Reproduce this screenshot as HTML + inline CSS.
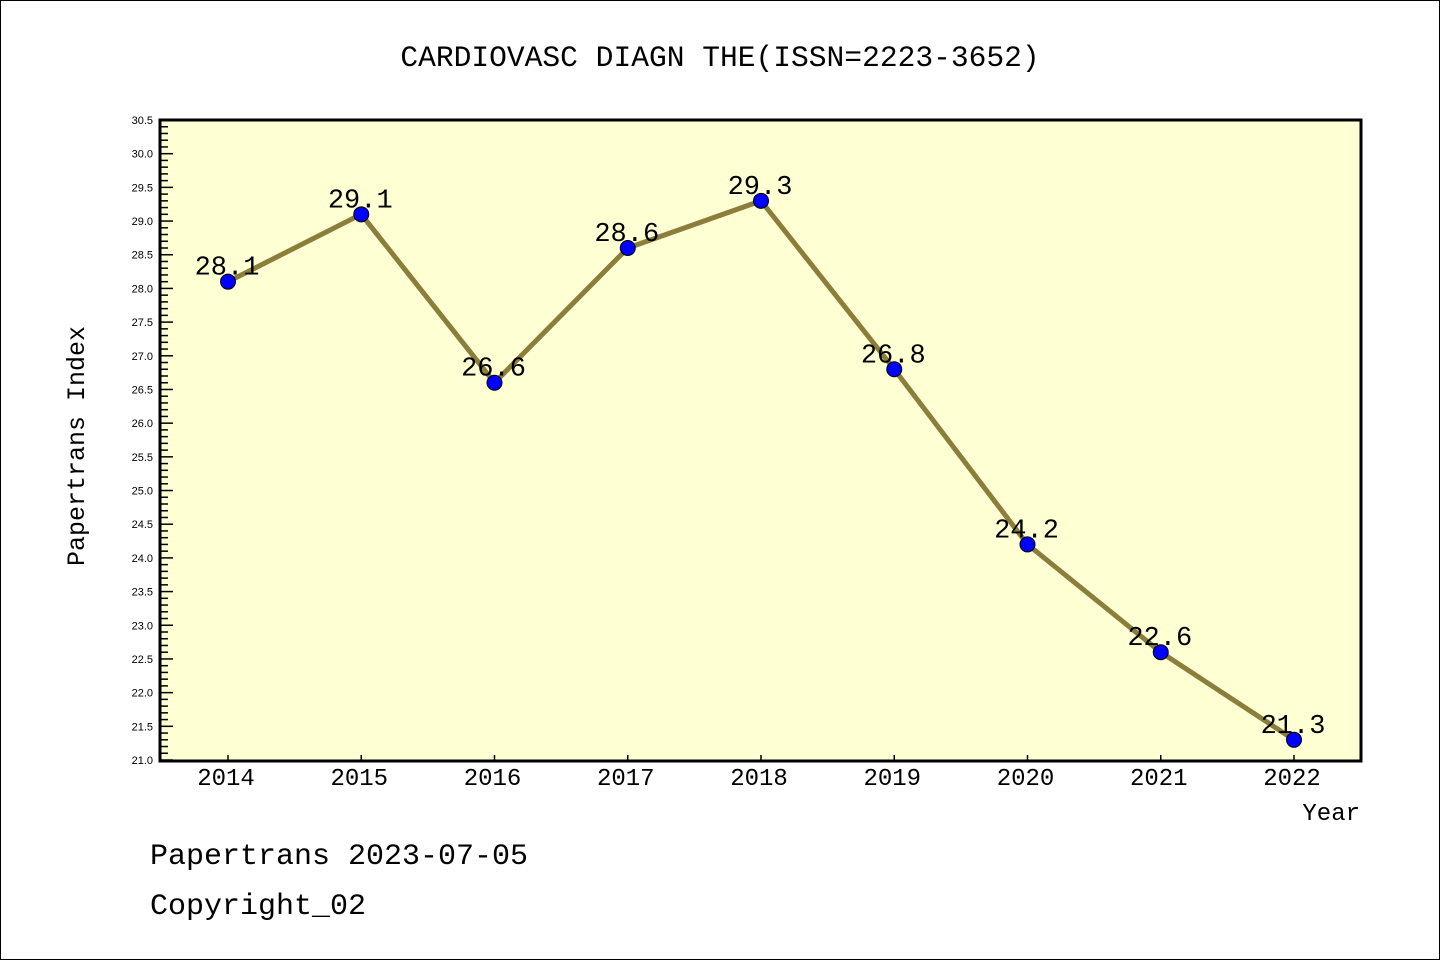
<!DOCTYPE html>
<html><head><meta charset="utf-8"><style>
html,body{margin:0;padding:0;background:#fff}
svg{display:block}
text{font-family:"Liberation Mono",monospace}
text.sans{font-family:"Liberation Sans",sans-serif}
</style></head><body>
<svg id="chart" width="1440" height="960" xmlns="http://www.w3.org/2000/svg">
<rect x="0.5" y="0.5" width="1439" height="959" fill="#fff" stroke="#000" stroke-width="1"/>
<text x="720" y="66" font-size="29.6" text-anchor="middle">CARDIOVASC DIAGN THE(ISSN=2223-3652)</text>
<rect x="160" y="120" width="1201" height="641" fill="#ffffd4"/>
<g id="ticks"></g>
<g id="series"></g>
<rect x="160" y="120" width="1201" height="641" fill="none" stroke="#000" stroke-width="3"/>
<text transform="translate(84,446) rotate(-90)" font-size="25" text-anchor="middle">Papertrans Index</text>
<text x="1360" y="820" font-size="24" text-anchor="end">Year</text>
<text x="150" y="864" font-size="30">Papertrans 2023-07-05</text>
<text x="150" y="914" font-size="30">Copyright_02</text>
</svg>
<script>
const years = ["2014","2015","2016","2017","2018","2019","2020","2021","2022"];
const values = [28.1,29.1,26.6,28.6,29.3,26.8,24.2,22.6,21.3];
const valueLabels = ["28.1","29.1","26.6","28.6","29.3","26.8","24.2","22.6","21.3"];
const yMin = 21.0, yMax = 30.5;
const NS="http://www.w3.org/2000/svg";
function xs(i){return 228 + i*(1294-228)/(years.length-1);}
function ys(v){return 760 - (v-yMin)/(yMax-yMin)*640;}
function mk(t,a,p){const e=document.createElementNS(NS,t);for(const k in a)e.setAttribute(k,a[k]);p.appendChild(e);return e;}
const tk=document.getElementById('ticks'), sr=document.getElementById('series');
for(let k=0;k<=95;k++){
  const v=yMin+k*0.1, y=ys(v), major=k%5===0;
  const l=mk('line',{x1:160,x2:major?173:168,y1:y,y2:y,stroke:'#000','stroke-width':1.5},tk);
  
  
  if(major){
    const t=mk('text',{x:153,y:y+4,'font-size':11,'text-anchor':'end','class':'sans'},tk);
    
    
    t.textContent=v.toFixed(1);
  }
}
years.forEach((yr,i)=>{
  const x=xs(i);
  const l=mk('line',{x1:x,x2:x,y1:760,y2:755,stroke:'#000','stroke-width':1.5},tk);
  
  
  const t=mk('text',{x:x-2,y:785,'font-size':24,'text-anchor':'middle'},tk);
  
  
  t.textContent=yr;
});
const pts=values.map((v,i)=>xs(i)+','+ys(v)).join(' ');
const pl=mk('polyline',{points:pts,fill:'none',stroke:'#8b7d3a','stroke-width':5},sr);


values.forEach((v,i)=>{
  const c=mk('circle',{cx:xs(i),cy:ys(v),r:7.5,fill:'#0000ff',stroke:'#000','stroke-width':1},sr);
  
  
  const t=mk('text',{x:xs(i)-1,y:ys(v)-7,'font-size':27,'text-anchor':'middle'},sr);
  
  
  t.textContent=valueLabels[i];
});
</script>
</body></html>
